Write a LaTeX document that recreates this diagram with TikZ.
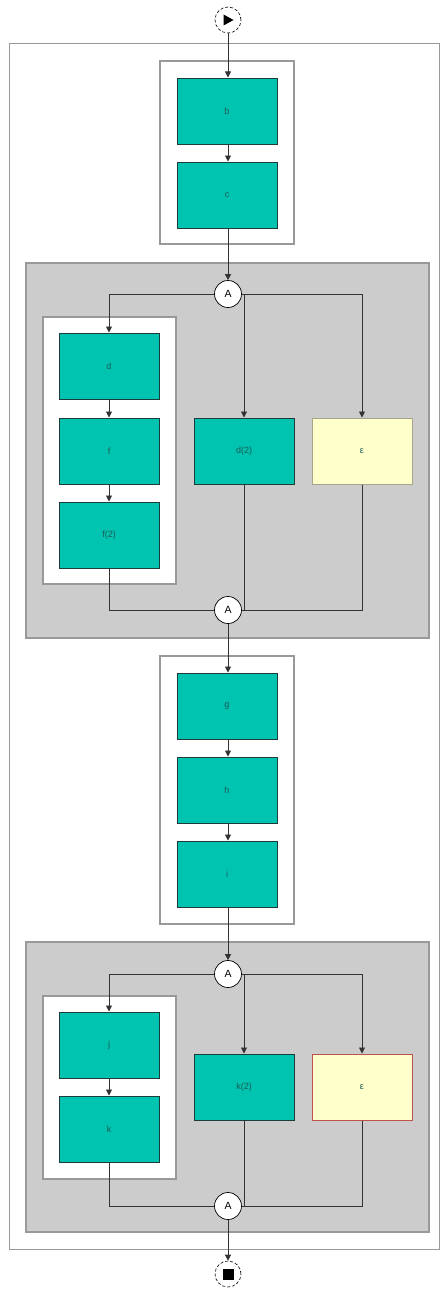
\documentclass[tikz,border=0pt]{standalone}
\usepackage{fontspec}
\setmainfont{Liberation Sans}
\usetikzlibrary{arrows.meta}
\definecolor{tealfill}{HTML}{00C4B0}
\definecolor{tealedge}{HTML}{1E3C3A}
\definecolor{tealtext}{HTML}{1C5A55}
\definecolor{creamfill}{HTML}{FFFFCC}
\definecolor{creamedge}{HTML}{A8A48A}
\definecolor{rededge}{HTML}{C0504D}
\definecolor{groupgray}{HTML}{CCCCCC}
\definecolor{frameedge}{HTML}{999999}
\definecolor{wire}{HTML}{333333}
\tikzset{
  task/.style={draw=tealedge, line width=1pt, fill=tealfill, minimum width=100pt, minimum height=66pt,
    inner sep=0pt, font=\fontsize{9}{10}\selectfont, text=tealtext},
  skip/.style={task, fill=creamfill, draw=creamedge},
  skipred/.style={task, fill=creamfill, draw=rededge},
  gate/.style={circle, draw=black, fill=white, line width=0.7pt, minimum size=27pt, inner sep=0pt,
    font=\fontsize{10.5}{12}\selectfont},
  terminal/.style={circle, draw=black, densely dashed, fill=white, line width=0.6pt, minimum size=26pt, inner sep=0pt},
  seqbox/.style={draw=frameedge, line width=1.2pt, fill=white},
  parbox/.style={draw=frameedge, line width=1.2pt, fill=groupgray},
  flow/.style={draw=wire, line width=0.9pt, -{Triangle[length=6pt,width=6pt]}},
  link/.style={draw=wire, line width=0.9pt},
}
\begin{document}
\begin{tikzpicture}[x=1pt,y=-1pt]
\useasboundingbox (0,0) rectangle (441,1290);

% process frame and groupings
\draw[draw=frameedge, line width=1pt] (9,44) rectangle (439,1249);
\draw[seqbox] (160,61) rectangle (294,244);
\draw[parbox] (26,263) rectangle (429,638);
\draw[seqbox] (43,317) rectangle (176,584);
\draw[seqbox] (160,656) rectangle (294,924);
\draw[parbox] (26,942) rectangle (429,1232);
\draw[seqbox] (43,996) rectangle (176,1179);

% start and end
\node[terminal] (start) at (228,20) {};
\fill[black] (223.5,14.5) -- (233.5,20) -- (223.5,25.5) -- cycle;
\node[terminal] (stop) at (228,1274) {};
\fill[black] (222.5,1268.5) rectangle (233.5,1279.5);

% first sequence
\node[task] (b) at (227,111) {b};
\node[task] (c) at (227,195) {c};

% first parallel block
\node[gate] (s1) at (228,294) {A};
\node[task] (d) at (109,366) {d};
\node[task] (f) at (109,451) {f};
\node[task] (f2) at (109,535) {f(2)};
\node[task] (d2) at (244,451) {d(2)};
\node[skip] (e1) at (362,451) {ε};
\node[gate] (j1) at (228,610) {A};

% second sequence
\node[task] (g) at (227,706) {g};
\node[task] (h) at (227,790) {h};
\node[task] (i) at (227,874) {i};

% second parallel block
\node[gate] (s2) at (228,974) {A};
\node[task] (jj) at (109,1045) {j};
\node[task] (k) at (109,1129) {k};
\node[task] (k2) at (244,1087) {k(2)};
\node[skipred] (e2) at (362,1087) {ε};
\node[gate] (j2) at (228,1206) {A};

% connectors
\draw[flow] (start) -- (start |- b.north);
\draw[flow] (b.south -| start) -- (start |- c.north);
\draw[flow] (c.south -| start) -- (s1);
\draw[flow] (s1.west) -| (d.north);
\draw[flow] (d) -- (f);
\draw[flow] (f) -- (f2);
\draw[flow] (s1.east) -| (d2.north);
\draw[flow] (s1.east) -| (e1.north);
\draw[link] (f2.south) |- (j1.west);
\draw[link] (d2.south) |- (j1.east);
\draw[link] (e1.south) |- (j1.east);
\draw[flow] (j1) -- (j1 |- g.north);
\draw[flow] (g.south -| j1) -- (j1 |- h.north);
\draw[flow] (h.south -| j1) -- (j1 |- i.north);
\draw[flow] (i.south -| j1) -- (s2);
\draw[flow] (s2.west) -| (jj.north);
\draw[flow] (jj) -- (k);
\draw[flow] (s2.east) -| (k2.north);
\draw[flow] (s2.east) -| (e2.north);
\draw[link] (k.south) |- (j2.west);
\draw[link] (k2.south) |- (j2.east);
\draw[link] (e2.south) |- (j2.east);
\draw[flow] (j2) -- (stop);
\end{tikzpicture}
\end{document}
